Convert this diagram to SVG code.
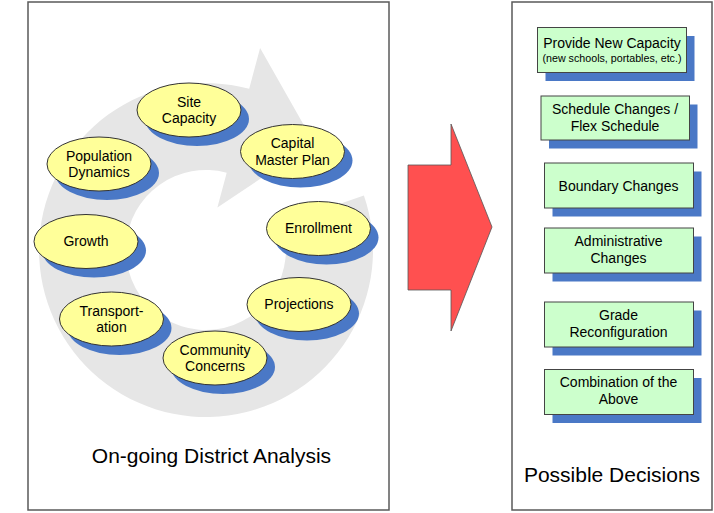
<svg xmlns="http://www.w3.org/2000/svg" width="714" height="513" viewBox="0 0 714 513">
<style>
  .frame { fill: #ffffff; stroke: #5a5a5a; stroke-width: 1.5; }
  .shadow { fill: #4a78c6; }
  .oval { fill: #ffff99; stroke: #333333; stroke-width: 1; }
  .box { fill: #ccffcc; stroke: #444444; stroke-width: 1; }
  .t { font-family: "Liberation Sans", Arial, sans-serif; font-size: 14px; fill: #000000; text-anchor: middle; }
  .small { font-size: 10.7px; }
  .title { font-family: "Liberation Sans", Arial, sans-serif; font-size: 21px; fill: #000000; text-anchor: middle; }
</style>
<rect width="714" height="513" fill="#ffffff"/>
<g id="left-panel">
  <rect class="frame" x="28" y="2" width="361" height="508"/>
  <path id="cycle-arrow" fill="#e6e6e6" d="M363.9,195.6 A167,167 0 1 1 249.2,88.7 L260.1,48.1 L314,143 L217.4,207.5 L226.7,172.7 A80,80 0 1 0 281.6,224 Z"/>
  <text class="title" x="211.5" y="462.5">On-going District Analysis</text>
</g>
<g id="right-panel">
  <rect class="frame" x="512" y="2" width="200" height="508"/>
  <text class="title" x="612" y="482">Possible Decisions</text>
</g>
<g id="site-capacity">
  <ellipse class="shadow" cx="197" cy="119" rx="52" ry="27"/>
  <ellipse class="oval" cx="189" cy="110" rx="52" ry="27"/>
  <text class="t" x="189" y="106.5">Site</text>
  <text class="t" x="189" y="123.3">Capacity</text>
</g>
<g id="capital-master-plan">
  <ellipse class="shadow" cx="300.5" cy="160.5" rx="52" ry="27"/>
  <ellipse class="oval" cx="292.5" cy="151.5" rx="52" ry="27"/>
  <text class="t" x="292.5" y="148">Capital</text>
  <text class="t" x="292.5" y="164.8">Master Plan</text>
</g>
<g id="population-dynamics">
  <ellipse class="shadow" cx="107" cy="173" rx="52" ry="27"/>
  <ellipse class="oval" cx="99" cy="164" rx="52" ry="27"/>
  <text class="t" x="99" y="160.5">Population</text>
  <text class="t" x="99" y="177.3">Dynamics</text>
</g>
<g id="enrollment">
  <ellipse class="shadow" cx="326.5" cy="237.5" rx="52" ry="27"/>
  <ellipse class="oval" cx="318.5" cy="228.5" rx="52" ry="27"/>
  <text class="t" x="318.5" y="233.3">Enrollment</text>
</g>
<g id="growth">
  <ellipse class="shadow" cx="94" cy="250.5" rx="52" ry="27"/>
  <ellipse class="oval" cx="86" cy="241.5" rx="52" ry="27"/>
  <text class="t" x="86" y="246.3">Growth</text>
</g>
<g id="transportation">
  <ellipse class="shadow" cx="119.5" cy="328" rx="52" ry="27"/>
  <ellipse class="oval" cx="111.5" cy="319" rx="52" ry="27"/>
  <text class="t" x="111.5" y="315.5">Transport-</text>
  <text class="t" x="111.5" y="332.3">ation</text>
</g>
<g id="projections">
  <ellipse class="shadow" cx="307" cy="313.5" rx="52" ry="27"/>
  <ellipse class="oval" cx="299" cy="304.5" rx="52" ry="27"/>
  <text class="t" x="299" y="309.3">Projections</text>
</g>
<g id="community-concerns">
  <ellipse class="shadow" cx="223" cy="367" rx="52" ry="27"/>
  <ellipse class="oval" cx="215" cy="358" rx="52" ry="27"/>
  <text class="t" x="215" y="354.5">Community</text>
  <text class="t" x="215" y="371.3">Concerns</text>
</g>
<g id="provide-new-capacity">
  <rect class="shadow" x="545.5" y="36" width="149" height="45"/>
  <rect class="box" x="537.5" y="27.5" width="149" height="45"/>
  <text class="t" x="612" y="48.3">Provide New Capacity</text>
  <text class="t small" x="612" y="62">(new schools, portables, etc.)</text>
</g>
<g id="schedule-changes">
  <rect class="shadow" x="549" y="104.5" width="148.5" height="44"/>
  <rect class="box" x="541" y="96" width="148.5" height="44"/>
  <text class="t" x="615" y="114.3">Schedule Changes /</text>
  <text class="t" x="615" y="131">Flex Schedule</text>
</g>
<g id="boundary-changes">
  <rect class="shadow" x="552.5" y="171.5" width="149" height="45"/>
  <rect class="box" x="544.5" y="163" width="149" height="45"/>
  <text class="t" x="618.5" y="190.5">Boundary Changes</text>
</g>
<g id="administrative-changes">
  <rect class="shadow" x="552.5" y="236.5" width="149" height="45"/>
  <rect class="box" x="544.5" y="228" width="149" height="45"/>
  <text class="t" x="618.5" y="246">Administrative</text>
  <text class="t" x="618.5" y="262.7">Changes</text>
</g>
<g id="grade-reconfiguration">
  <rect class="shadow" x="552.5" y="310.5" width="149" height="45"/>
  <rect class="box" x="544.5" y="302" width="149" height="45"/>
  <text class="t" x="618.5" y="320">Grade</text>
  <text class="t" x="618.5" y="336.7">Reconfiguration</text>
</g>
<g id="combination">
  <rect class="shadow" x="552.5" y="378" width="149" height="45"/>
  <rect class="box" x="544.5" y="369.5" width="149" height="45"/>
  <text class="t" x="618.5" y="387.3">Combination of the</text>
  <text class="t" x="618.5" y="404">Above</text>
</g>
<g id="connectors">
  <polygon points="408,165 451,165 451,124 492,227 451,331 451,290 408,290" fill="#ff5050" stroke="#555555" stroke-width="0.8"/>
</g>
</svg>
